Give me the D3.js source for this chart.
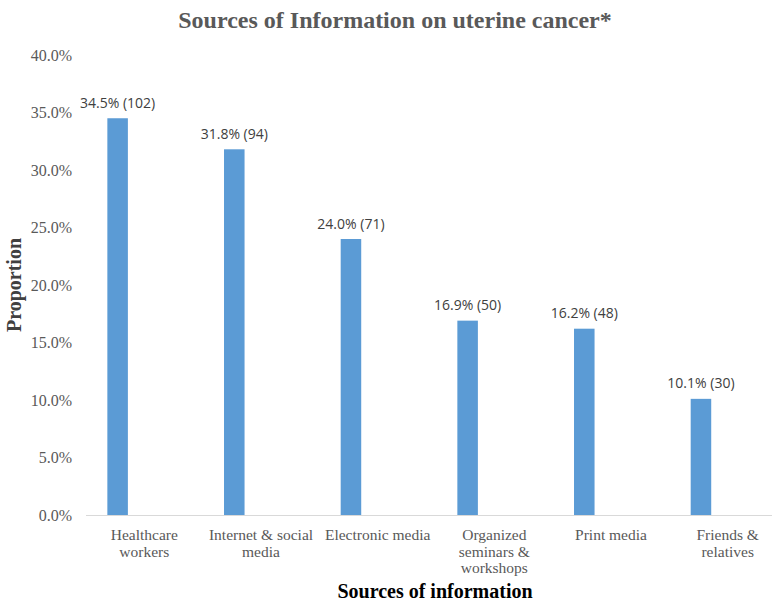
<!DOCTYPE html>
<html>
<head>
<meta charset="utf-8">
<script src="https://cdn.jsdelivr.net/npm/d3@7"></script>
<style>
  html, body { margin: 0; padding: 0; background: #fff; }
  svg { display: block; }
</style>
</head>
<body>
<svg id="chart" width="772" height="602"></svg>
<script>
const categories = ["Healthcare workers", "Internet & social media", "Electronic media", "Organized seminars & workshops", "Print media", "Friends & relatives"];
const categoryLines = [["Healthcare", "workers"], ["Internet & social", "media"], ["Electronic media"], ["Organized", "seminars &", "workshops"], ["Print media"], ["Friends &", "relatives"]];
const proportions = [0.345, 0.318, 0.240, 0.169, 0.162, 0.101];
const counts = [102, 94, 71, 50, 48, 30];
const yTicks = [0, 0.05, 0.10, 0.15, 0.20, 0.25, 0.30, 0.35, 0.40];

const svg = d3.select("#chart");
const serif = "'Liberation Serif', 'Times New Roman', serif";

const x = d3.scaleBand().domain(categories).range([86, 786]).paddingInner(0).paddingOuter(0);
const y = d3.scaleLinear().domain([0, 0.4]).range([515, 55]);

// title
svg.append("text")
  .attr("x", 395).attr("y", 28)
  .attr("text-anchor", "middle")
  .attr("font-family", serif).attr("font-weight", "bold").attr("font-size", 24)
  .attr("fill", "#595959")
  .text("Sources of Information on uterine cancer*");

// y axis tick labels
const yAxis = d3.axisLeft(y).tickValues(yTicks).tickFormat(d3.format(".1%")).tickSize(0).tickPadding(0);
const yg = svg.append("g").attr("transform", "translate(72,0)").call(yAxis);
yg.select(".domain").remove();
yg.selectAll("text")
  .attr("font-family", serif).attr("font-size", 16).attr("fill", "#595959")
  .attr("dy", "0.34em");

// baseline
svg.append("line")
  .attr("x1", 86).attr("x2", 786)
  .attr("y1", y(0) + 0.5).attr("y2", y(0) + 0.5)
  .attr("stroke", "#d9d9d9").attr("stroke-width", 1);

// bars
const bw = x.bandwidth();
const barOffset = bw * 0.183;
const barWidth = bw * 0.176;
svg.append("g").selectAll("rect")
  .data(categories)
  .join("rect")
  .attr("x", (d) => x(d) + barOffset)
  .attr("width", barWidth)
  .attr("y", (d, i) => y(proportions[i]))
  .attr("height", (d, i) => y(0) - y(proportions[i]))
  .attr("fill", "#5b9bd5");

// data labels
svg.append("g").selectAll("text")
  .data(categories)
  .join("text")
  .attr("x", (d) => x(d) + barOffset + barWidth / 2)
  .attr("y", (d, i) => y(proportions[i]) - 10.5)
  .attr("text-anchor", "middle")
  .attr("font-family", "'Open Sans', sans-serif").attr("font-size", 14)
  .attr("fill", "#404040")
  .text((d, i) => d3.format(".1%")(proportions[i]) + " (" + counts[i] + ")");

// category labels
const cg = svg.append("g");
categories.forEach((c, i) => {
  const t = cg.append("text")
    .attr("x", x(c) + bw / 2).attr("y", 540)
    .attr("text-anchor", "middle")
    .attr("font-family", serif).attr("font-size", 15.5).attr("fill", "#595959");
  categoryLines[i].forEach((ln, j) => {
    t.append("tspan").attr("x", x(c) + bw / 2).attr("y", 540 + j * 16.5).text(ln);
  });
});

// axis titles
svg.append("text")
  .attr("x", 435).attr("y", 598)
  .attr("text-anchor", "middle")
  .attr("font-family", serif).attr("font-weight", "bold").attr("font-size", 20)
  .attr("fill", "#000")
  .text("Sources of information");

svg.append("text")
  .attr("transform", "translate(21,285) rotate(-90)")
  .attr("text-anchor", "middle")
  .attr("font-family", serif).attr("font-weight", "bold").attr("font-size", 20)
  .attr("fill", "#404040")
  .text("Proportion");
</script>
</body>
</html>
